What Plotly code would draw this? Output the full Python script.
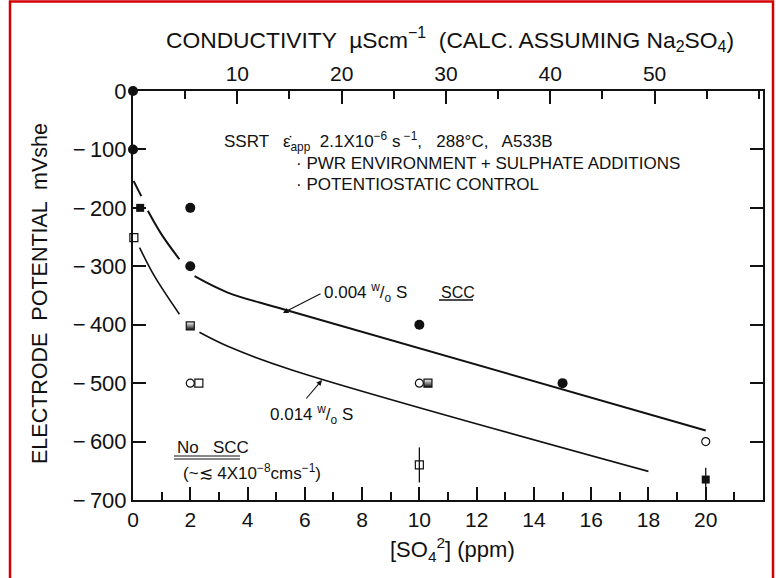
import plotly.graph_objects as go

# ---------------- data ----------------
sulphate_ticks = [0, 2, 4, 6, 8, 10, 12, 14, 16, 18, 20]
potential_ticks = [0, -100, -200, -300, -400, -500, -600, -700]
potential_labels = ["0", "\u2212\u2009100", "\u2212\u2009200", "\u2212\u2009300",
                    "\u2212\u2009400", "\u2212\u2009500", "\u2212\u2009600", "\u2212\u2009700"]
conductivity_ticks = [10, 20, 30, 40, 50]
cond_per_ppm = 2.745  # µS/cm per ppm SO4 (Na2SO4)

# SCC, 0.004 w/o S  (filled circles)
scc_c_x = [0, 0, 2, 2, 10, 15]
scc_c_y = [0, -100, -200, -300, -400, -500]
# no SCC, 0.004 w/o S (open circles)
noscc_c_x = [-0.1, 2.0, 10.0, 20]
noscc_c_y = [-200, -500, -500, -600]
# SCC, 0.014 w/o S (filled squares)
scc_s_x = [0.25, 20]
scc_s_y = [-200, -665]
scc_s_err_plus = [0, 20]
scc_s_err_minus = [0, 32]
# borderline, 0.014 w/o S (half filled squares)
half_s_x = [2.0, 10.3]
half_s_y = [-402, -500]
# no SCC, 0.014 w/o S (open squares)
noscc_s_x = [0.03, 2.3, 10]
noscc_s_y = [-251, -500, -640]
noscc_s_err = [0, 0, 30]

# boundary curves (segments separated by None)
curve_004_x = [0.02, 0.29, None, 0.52, 0.99, 1.62, None, 2.15, 3.31, 5.28, 20]
curve_004_y = [-154, -180, None, -205, -245, -288, None, -317, -345, -374, -581]
curve_014_x = [0.23, 0.75, 1.62, None, 2.32, 3.31, 5.52, 18]
curve_014_y = [-268, -317, -382, None, -413, -437, -477, -651]

# ---------------- geometry helpers (annotation placement only) ----------------
W, H = 776, 578
L, R, T, B = 133, 13, 91, 78
XMIN, XMAX = 0, 22
YMIN, YMAX = -700, 0


def px2x(px):
    return XMIN + (px - L) / (W - L - R) * (XMAX - XMIN)


def py2y(py):
    return YMAX - (py - T) / (H - T - B) * (YMAX - YMIN)


def px2paper(px):
    return (px - L) / (W - L - R)


def py2paper(py):
    return (H - B - py) / (H - T - B)


FONT = "Liberation Sans, Arial, Helvetica, sans-serif"
BLACK = "#111111"

fig = go.Figure()

fig.add_trace(go.Scatter(x=curve_004_x, y=curve_004_y, mode="lines",
                         line=dict(color=BLACK, width=2, shape="spline"),
                         connectgaps=False, hoverinfo="skip", showlegend=False))
fig.add_trace(go.Scatter(x=curve_014_x, y=curve_014_y, mode="lines",
                         line=dict(color=BLACK, width=1.6, shape="spline"),
                         connectgaps=False, hoverinfo="skip", showlegend=False))

fig.add_trace(go.Scatter(x=scc_c_x, y=scc_c_y, mode="markers", cliponaxis=False,
                         marker=dict(symbol="circle", size=10, color=BLACK),
                         showlegend=False))
fig.add_trace(go.Scatter(x=noscc_c_x, y=noscc_c_y, mode="markers", cliponaxis=False,
                         marker=dict(symbol="circle-open", size=8, color=BLACK,
                                     line=dict(width=1.2)),
                         showlegend=False))
fig.add_trace(go.Scatter(x=scc_s_x, y=scc_s_y, mode="markers", cliponaxis=False,
                         marker=dict(symbol="square", size=8, color=BLACK),
                         error_y=dict(type="data", array=scc_s_err_plus,
                                      arrayminus=scc_s_err_minus, symmetric=False,
                                      color=BLACK, thickness=1.3, width=0),
                         showlegend=False))
fig.add_trace(go.Scatter(x=half_s_x, y=half_s_y, mode="markers", cliponaxis=False,
                         marker=dict(symbol="square", size=8, color="white",
                                     gradient=dict(type="vertical", color=BLACK),
                                     line=dict(color=BLACK, width=1.2)),
                         showlegend=False))
fig.add_trace(go.Scatter(x=noscc_s_x, y=noscc_s_y, mode="markers", cliponaxis=False,
                         marker=dict(symbol="square-open", size=8, color=BLACK,
                                     line=dict(width=1.2)),
                         error_y=dict(type="data", array=noscc_s_err, color=BLACK,
                                      thickness=1.3, width=0),
                         showlegend=False))
# invisible trace to hold the conductivity axis
fig.add_trace(go.Scatter(x=[0, XMAX * cond_per_ppm], y=[YMIN, YMIN], xaxis="x2",
                         mode="markers", marker=dict(opacity=0), hoverinfo="skip",
                         showlegend=False))

axis_common = dict(showgrid=False, zeroline=False, showline=True, linecolor=BLACK,
                   linewidth=2, ticks="inside", tickcolor=BLACK, tickwidth=1.5,
                   ticklen=13)

fig.update_layout(
    width=W, height=H,
    margin=dict(l=L, r=R, t=T, b=B),
    paper_bgcolor="white", plot_bgcolor="white",
    xaxis=dict(range=[XMIN, XMAX], tickvals=sulphate_ticks, mirror=False,
               tickfont=dict(family=FONT, size=21, color=BLACK),
               minor=dict(ticks="inside", dtick=1, tick0=0, ticklen=8,
                          tickwidth=1.5, tickcolor=BLACK),
               **axis_common),
    xaxis2=dict(range=[XMIN * cond_per_ppm, XMAX * cond_per_ppm], overlaying="x",
                side="top", anchor="y", tickvals=conductivity_ticks,
                tickfont=dict(family=FONT, size=21, color=BLACK),
                minor=dict(ticks="inside", dtick=5, tick0=0, ticklen=8,
                           tickwidth=1.5, tickcolor=BLACK),
                **axis_common),
    yaxis=dict(range=[YMIN, YMAX], tickvals=potential_ticks, ticktext=potential_labels,
               mirror="ticks", tickfont=dict(family=FONT, size=22, color=BLACK),
               **axis_common),
)

ann = []
txt_font = dict(family=FONT, size=17, color=BLACK)
lbl_font = dict(family=FONT, size=17, color=BLACK)
ann.append(dict(x=px2paper(222), y=py2paper(141), xref="paper", yref="paper",
                xanchor="left", yanchor="middle", showarrow=False, font=txt_font,
                text="SSRT   \u03b5\u0307<sub>app</sub>  2.1X10<sup>\u22126</sup> s<sup> \u22121</sup>,   288\u00b0C,   A533B"))
ann.append(dict(x=px2paper(294), y=py2paper(163), xref="paper", yref="paper",
                xanchor="left", yanchor="middle", showarrow=False, font=txt_font,
                text="\u00b7 PWR ENVIRONMENT + SULPHATE ADDITIONS"))
ann.append(dict(x=px2paper(294), y=py2paper(184), xref="paper", yref="paper",
                xanchor="left", yanchor="middle", showarrow=False, font=txt_font,
                text="\u00b7 POTENTIOSTATIC CONTROL"))
ann.append(dict(x=px2paper(322), y=py2paper(292), xref="paper", yref="paper",
                xanchor="left", yanchor="middle", showarrow=False, font=lbl_font,
                text="0.004 <sup>w</sup>/<sub>o</sub> S"))
ann.append(dict(x=px2paper(439), y=py2paper(292), xref="paper", yref="paper",
                xanchor="left", yanchor="middle", showarrow=False,
                font=dict(family=FONT, size=16, color=BLACK), text="SCC"))
ann.append(dict(x=px2paper(268), y=py2paper(414), xref="paper", yref="paper",
                xanchor="left", yanchor="middle", showarrow=False, font=lbl_font,
                text="0.014 <sup>w</sup>/<sub>o</sub> S"))
ann.append(dict(x=px2paper(175), y=py2paper(447), xref="paper", yref="paper",
                xanchor="left", yanchor="middle", showarrow=False, font=lbl_font,
                text="No   SCC"))
ann.append(dict(x=px2paper(181), y=py2paper(472), xref="paper", yref="paper",
                xanchor="left", yanchor="middle", showarrow=False, font=lbl_font,
                text="(~\u2272 4X10<sup>\u22128</sup>cms<sup>\u22121</sup>)"))
# arrows
ann.append(dict(x=px2x(283), y=py2y(313), xref="x", yref="y", text="",
                showarrow=True, arrowhead=2, arrowsize=1, arrowwidth=1.1,
                arrowcolor=BLACK, ax=39, ay=-20))
ann.append(dict(x=px2x(322), y=py2y(380), xref="x", yref="y", text="",
                showarrow=True, arrowhead=2, arrowsize=1, arrowwidth=1.1,
                arrowcolor=BLACK, ax=-17, ay=20))
# axis titles
title_font = dict(family=FONT, size=22.8, color=BLACK)
ann.append(dict(x=px2paper(450), y=py2paper(40), xref="paper", yref="paper",
                xanchor="center", yanchor="middle", showarrow=False, font=title_font,
                text="CONDUCTIVITY  \u00b5Scm<sup>\u22121</sup>  (CALC. ASSUMING Na<sub>2</sub>SO<sub>4</sub>)"))
ann.append(dict(x=px2paper(452), y=py2paper(549), xref="paper", yref="paper",
                xanchor="center", yanchor="middle", showarrow=False,
                font=dict(family=FONT, size=22, color=BLACK),
                text="[SO<sub>4</sub><sup>2</sup>] (ppm)"))
ann.append(dict(x=px2paper(40), y=py2paper(294), xref="paper", yref="paper",
                xanchor="center", yanchor="middle", showarrow=False,
                font=dict(family=FONT, size=21.5, color=BLACK),
                textangle=-90, text="ELECTRODE  POTENTIAL  mVshe"))
fig.update_layout(annotations=ann)

shapes = []
# underline for SCC
shapes.append(dict(type="line", xref="paper", yref="paper",
                   x0=px2paper(439), x1=px2paper(473), y0=py2paper(300), y1=py2paper(300),
                   line=dict(color=BLACK, width=1.5)))
# double underline for No SCC
for yy in (456, 459):
    shapes.append(dict(type="line", xref="paper", yref="paper",
                       x0=px2paper(174), x1=px2paper(240), y0=py2paper(yy), y1=py2paper(yy),
                       line=dict(color=BLACK, width=1.2)))
# red outer frame
shapes.append(dict(type="rect", xref="paper", yref="paper",
                   x0=px2paper(10), x1=px2paper(773), y0=py2paper(590), y1=py2paper(1.5),
                   line=dict(color="#d40000", width=2.5), fillcolor="rgba(0,0,0,0)"))
fig.update_layout(shapes=shapes)

fig.write_html("out.html")
